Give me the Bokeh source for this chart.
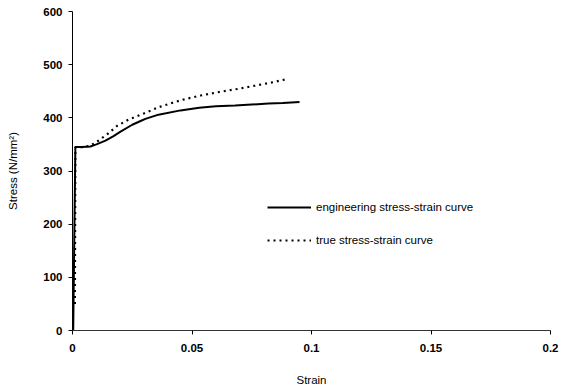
from bokeh.plotting import figure
from bokeh.models import Range1d, FixedTicker, Legend, LegendItem
from bokeh.embed import file_html
from bokeh.resources import INLINE

# ---- data ----
eng_strain = [0.0003, 0.0012, 0.0040, 0.0075, 0.0100, 0.0138, 0.0170, 0.0201, 0.0250,
              0.0285, 0.0305, 0.0360, 0.0452, 0.0530, 0.0600, 0.0680, 0.0750, 0.0820,
              0.0880, 0.0950]
eng_stress = [0, 345, 345, 346, 350, 357, 365, 374, 387, 394, 398, 406, 414, 419, 422,
              423, 425, 427, 428, 430]

true_strain = [0.0010, 0.0012, 0.0040, 0.0070, 0.0096, 0.0120, 0.0145, 0.0187, 0.0236,
               0.0298, 0.0360, 0.0452, 0.0536, 0.0619, 0.0700, 0.0780, 0.0840, 0.0898]
true_stress = [50, 345, 345, 347, 353, 361, 369, 385, 397, 408, 420, 433, 442, 449, 455,
               462, 467, 473]

x_ticks = [0, 0.05, 0.1, 0.15, 0.2]
x_tick_labels = ["0", "0.05", "0.1", "0.15", "0.2"]
y_ticks = [0, 100, 200, 300, 400, 500, 600]

series_names = ["engineering stress-strain curve", "true stress-strain curve"]

FONT = "Liberation Sans"

p = figure(width=562, height=391, output_backend="svg", toolbar_location=None,
           x_range=Range1d(0, 0.2), y_range=Range1d(0, 600),
           min_border_left=72, min_border_right=12, min_border_top=11,
           min_border_bottom=61)
p.outline_line_color = None
p.grid.visible = False
p.background_fill_color = "white"
p.border_fill_color = "white"

r1 = p.line(eng_strain, eng_stress, line_color="black", line_width=2)
r2 = p.line(true_strain, true_stress, line_color="black", line_width=2.2,
            line_dash="2 4")

xa = p.xaxis[0]
xa.ticker = FixedTicker(ticks=x_ticks)
xa.major_label_overrides = {t: l for t, l in zip(x_ticks, x_tick_labels)}
xa.minor_tick_line_color = None
xa.major_tick_in = 0
xa.major_tick_out = 4
xa.axis_line_color = "#333333"
xa.major_label_standoff = 9
xa.axis_label = "Strain"
xa.axis_label_standoff = 19

ya = p.yaxis[0]
ya.ticker = FixedTicker(ticks=y_ticks)
ya.minor_tick_line_color = None
ya.major_tick_in = 0
ya.major_tick_out = 4
ya.major_label_standoff = 6
ya.axis_label = "Stress (N/mm²)"
ya.axis_label_standoff = 21

for ax in (xa, ya):
    ax.major_label_text_font = FONT
    ax.major_label_text_font_size = "11.5px"
    ax.major_label_text_font_style = "bold"
    ax.major_label_text_color = "black"
    ax.axis_label_text_font = FONT
    ax.axis_label_text_font_size = "11.5px"
    ax.axis_label_text_font_style = "normal"
    ax.axis_label_text_color = "black"

legend = Legend(items=[LegendItem(label=series_names[0], renderers=[r1]),
                       LegendItem(label=series_names[1], renderers=[r2])],
                location=(195, 80), border_line_color=None,
                background_fill_alpha=0, padding=0, margin=0, spacing=13,
                glyph_width=44, glyph_height=20, label_height=20,
                label_standoff=5, label_text_font=FONT,
                label_text_font_size="11.5px", label_text_color="black")
p.add_layout(legend)

open("out.html", "w").write(file_html(p, INLINE))
